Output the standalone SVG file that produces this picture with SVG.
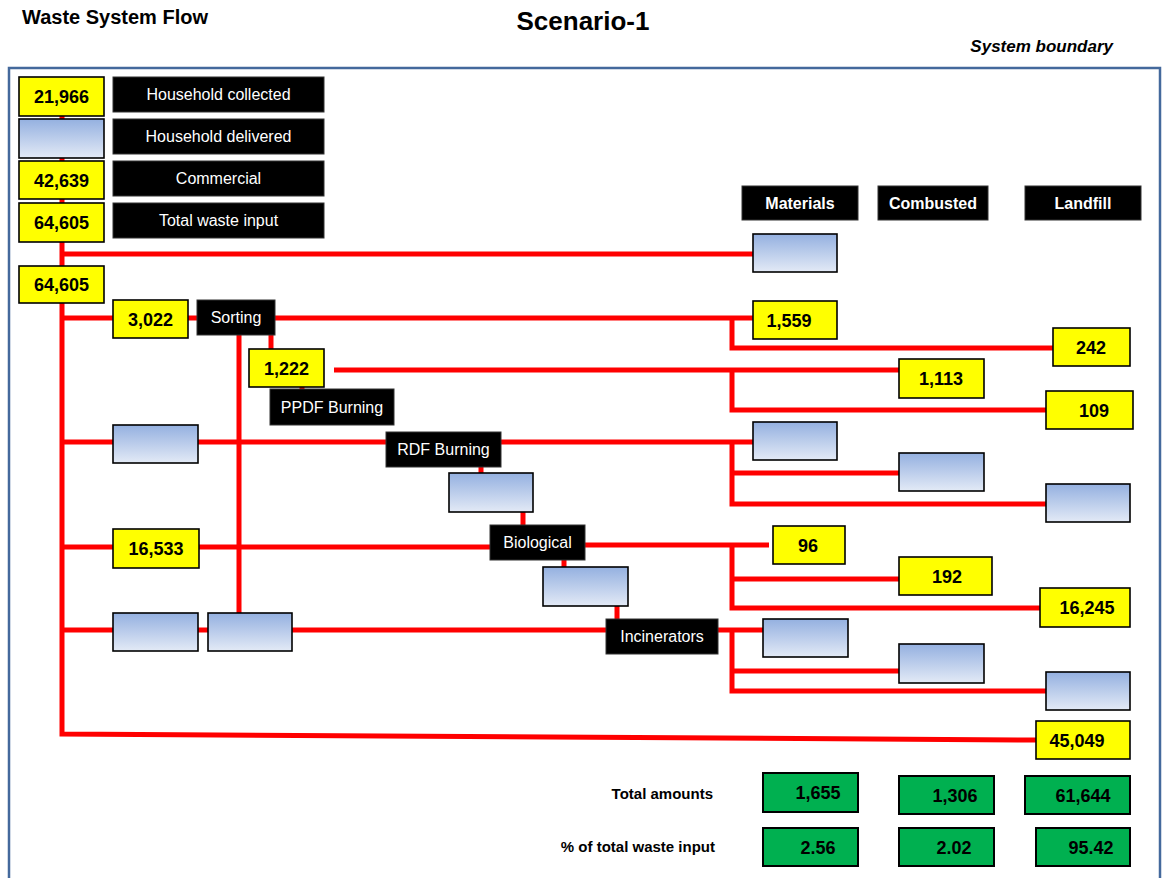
<svg xmlns="http://www.w3.org/2000/svg" width="1162" height="878" viewBox="0 0 1162 878">
<defs>
<linearGradient id="blueGrad" x1="0" y1="0" x2="0" y2="1">
<stop offset="0" stop-color="#94B0E0"/>
<stop offset="1" stop-color="#E3EAF6"/>
</linearGradient>
<style>
text{font-family:"Liberation Sans",Arial,sans-serif;}
.yel{fill:#FFFF00;stroke:#000;stroke-width:1.6;}
.blu{fill:url(#blueGrad);stroke:#000;stroke-width:1.6;}
.blk{fill:#000;stroke:#333;stroke-width:1;}
.grn{fill:#00B050;stroke:#000;stroke-width:2;}
.num{font-size:18px;font-weight:bold;fill:#000;text-anchor:middle;}
.lbl{font-size:16px;fill:#fff;text-anchor:middle;}
.hdr{font-size:16px;font-weight:bold;fill:#fff;text-anchor:middle;}
.sum{font-size:15px;font-weight:bold;fill:#000;text-anchor:end;}
.flow{stroke:#FF0000;stroke-width:5;fill:none;stroke-linecap:butt;stroke-linejoin:miter;}
</style>
</defs>
<rect width="1162" height="878" fill="#fff"/>

<g id="titles">
<text x="22" y="24" font-size="20" font-weight="bold" fill="#000">Waste System Flow</text>
<text x="583" y="30" font-size="26" font-weight="bold" fill="#000" text-anchor="middle">Scenario-1</text>
<text x="1113" y="52" font-size="17" font-weight="bold" font-style="italic" fill="#000" text-anchor="end">System boundary</text>
</g>

<rect id="system-boundary" x="9" y="68" width="1151" height="830" fill="none" stroke="#44699C" stroke-width="2.5"/>

<g id="connectors" class="flow">
<polyline points="62,116 62,734 1036,740"/>
<line x1="62" y1="254" x2="753" y2="254"/>
<line x1="62" y1="318" x2="753" y2="318"/>
<polyline points="732,318 732,348 1053,348"/>
<line x1="239" y1="335" x2="239" y2="613"/>
<line x1="271" y1="335" x2="271" y2="349"/>
<line x1="302" y1="387" x2="302" y2="389"/>
<line x1="334" y1="370" x2="899" y2="370"/>
<polyline points="732,370 732,410 1046,410"/>
<line x1="62" y1="442" x2="753" y2="442"/>
<polyline points="732,442 732,504 1046,504"/>
<line x1="732" y1="473" x2="899" y2="473"/>
<line x1="481" y1="467" x2="481" y2="473"/>
<line x1="523" y1="512" x2="523" y2="525"/>
<line x1="62" y1="547" x2="490" y2="547"/>
<line x1="585" y1="545" x2="769" y2="545"/>
<polyline points="732,547 732,608 1040,608"/>
<line x1="732" y1="579" x2="899" y2="579"/>
<line x1="564" y1="560" x2="564" y2="567"/>
<line x1="617" y1="606" x2="617" y2="619"/>
<line x1="62" y1="630" x2="763" y2="630"/>
<polyline points="732,630 732,691 1046,691"/>
<line x1="732" y1="671" x2="899" y2="671"/>
</g>

<g id="n-hh-collected-val"><rect class="yel" x="19" y="77" width="85" height="39"/><text class="num" x="61.5" y="103">21,966</text></g>
<g id="n-hh-collected-lbl"><rect class="blk" x="113" y="77" width="211" height="35"/><text class="lbl" x="218.5" y="100">Household collected</text></g>
<g id="n-hh-delivered-val"><rect class="blu" x="19" y="119" width="85" height="39"/></g>
<g id="n-hh-delivered-lbl"><rect class="blk" x="113" y="119" width="211" height="35"/><text class="lbl" x="218.5" y="142">Household delivered</text></g>
<g id="n-commercial-val"><rect class="yel" x="19" y="161" width="85" height="38"/><text class="num" x="61.5" y="187">42,639</text></g>
<g id="n-commercial-lbl"><rect class="blk" x="113" y="161" width="211" height="35"/><text class="lbl" x="218.5" y="184">Commercial</text></g>
<g id="n-total-val"><rect class="yel" x="19" y="203" width="85" height="39"/><text class="num" x="61.5" y="229">64,605</text></g>
<g id="n-total-lbl"><rect class="blk" x="113" y="203" width="211" height="35"/><text class="lbl" x="218.5" y="226">Total waste input</text></g>
<g id="n-input"><rect class="yel" x="19" y="266" width="85" height="37"/><text class="num" x="61.5" y="291">64,605</text></g>

<g id="n-sort-in"><rect class="yel" x="113" y="300" width="75" height="38"/><text class="num" x="150.5" y="326">3,022</text></g>
<g id="n-sorting"><rect class="blk" x="197" y="300" width="78" height="35"/><text class="lbl" x="236" y="323">Sorting</text></g>
<g id="n-ppdf-in"><rect class="yel" x="249" y="349" width="75" height="38"/><text class="num" x="286.5" y="375">1,222</text></g>
<g id="n-ppdf"><rect class="blk" x="270" y="389" width="124" height="36"/><text class="lbl" x="332" y="413">PPDF Burning</text></g>
<g id="n-rdf-in"><rect class="blu" x="113" y="425" width="85" height="38"/></g>
<g id="n-rdf"><rect class="blk" x="386" y="432" width="115" height="35"/><text class="lbl" x="443.5" y="455">RDF Burning</text></g>
<g id="n-rdf-out"><rect class="blu" x="449" y="473" width="84" height="39"/></g>
<g id="n-bio-in"><rect class="yel" x="113" y="529" width="86" height="39"/><text class="num" x="156" y="555">16,533</text></g>
<g id="n-bio"><rect class="blk" x="490" y="525" width="95" height="35"/><text class="lbl" x="537.5" y="548">Biological</text></g>
<g id="n-bio-out"><rect class="blu" x="543" y="567" width="85" height="39"/></g>
<g id="n-inc-in1"><rect class="blu" x="113" y="613" width="85" height="38"/></g>
<g id="n-inc-in2"><rect class="blu" x="208" y="613" width="84" height="38"/></g>
<g id="n-inc"><rect class="blk" x="606" y="619" width="112" height="35"/><text class="lbl" x="662" y="642">Incinerators</text></g>

<g id="h-materials"><rect class="blk" x="742" y="186" width="116" height="34"/><text class="hdr" x="800" y="209">Materials</text></g>
<g id="h-combusted"><rect class="blk" x="878" y="186" width="110" height="34"/><text class="hdr" x="933" y="209">Combusted</text></g>
<g id="h-landfill"><rect class="blk" x="1025" y="186" width="116" height="34"/><text class="hdr" x="1083" y="209">Landfill</text></g>

<g id="m-direct"><rect class="blu" x="753" y="234" width="84" height="38"/></g>
<g id="m-sort"><rect class="yel" x="753" y="301" width="84" height="38"/><text class="num" x="789" y="327">1,559</text></g>
<g id="l-sort"><rect class="yel" x="1053" y="328" width="77" height="38"/><text class="num" x="1091" y="354">242</text></g>
<g id="c-ppdf"><rect class="yel" x="899" y="359" width="85" height="39"/><text class="num" x="941" y="385">1,113</text></g>
<g id="l-ppdf"><rect class="yel" x="1046" y="391" width="87" height="38"/><text class="num" x="1094" y="417">109</text></g>
<g id="m-rdf"><rect class="blu" x="753" y="422" width="84" height="38"/></g>
<g id="c-rdf"><rect class="blu" x="899" y="453" width="85" height="38"/></g>
<g id="l-rdf"><rect class="blu" x="1046" y="484" width="84" height="38"/></g>
<g id="m-bio"><rect class="yel" x="773" y="526" width="72" height="38"/><text class="num" x="808" y="552">96</text></g>
<g id="c-bio"><rect class="yel" x="899" y="557" width="93" height="38"/><text class="num" x="947" y="583">192</text></g>
<g id="l-bio"><rect class="yel" x="1040" y="588" width="90" height="39"/><text class="num" x="1087" y="614">16,245</text></g>
<g id="m-inc"><rect class="blu" x="763" y="619" width="85" height="38"/></g>
<g id="c-inc"><rect class="blu" x="899" y="644" width="85" height="39"/></g>
<g id="l-inc"><rect class="blu" x="1046" y="672" width="84" height="38"/></g>
<g id="l-direct"><rect class="yel" x="1036" y="721" width="94" height="38"/><text class="num" x="1077" y="747">45,049</text></g>

<g id="totals">
<text class="sum" x="713" y="799">Total amounts</text>
<g id="t-materials"><rect class="grn" x="763" y="773" width="95" height="39"/><text class="num" x="818" y="799">1,655</text></g>
<g id="t-combusted"><rect class="grn" x="899" y="776" width="95" height="38"/><text class="num" x="955" y="802">1,306</text></g>
<g id="t-landfill"><rect class="grn" x="1025" y="776" width="105" height="38"/><text class="num" x="1083" y="802">61,644</text></g>
</g>
<g id="percentages">
<text class="sum" x="715" y="852">% of total waste input</text>
<g id="p-materials"><rect class="grn" x="763" y="828" width="95" height="38"/><text class="num" x="818" y="854">2.56</text></g>
<g id="p-combusted"><rect class="grn" x="899" y="828" width="95" height="38"/><text class="num" x="954" y="854">2.02</text></g>
<g id="p-landfill"><rect class="grn" x="1036" y="828" width="94" height="38"/><text class="num" x="1091" y="854">95.42</text></g>
</g>
</svg>
